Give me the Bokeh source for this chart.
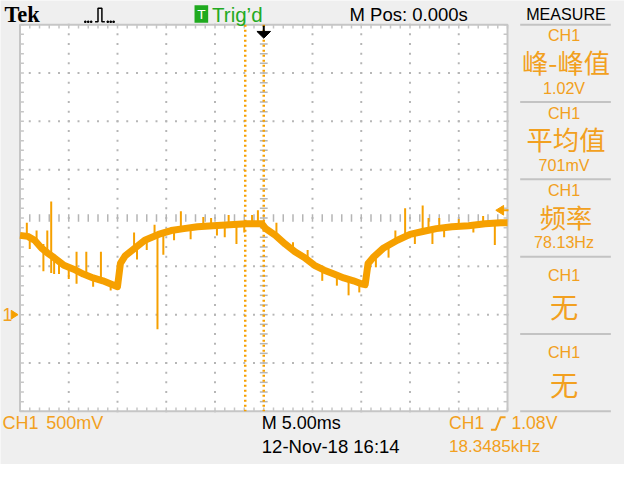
import numpy as np
from bokeh.plotting import figure
from bokeh.models import Range1d
from bokeh.core.properties import value
from bokeh.embed import file_html
from bokeh.resources import INLINE

# ---------------- data ----------------
# CH1 trace: time (ms, relative to trigger) and volts
trace_t = [-25.0, -24.2, -23.5, -22.8, -22.2, -21.5, -20.5, -19.5, -18.5, -17.5, -16.5, -15.5, -15.0,
           -14.7, -14.2, -13.2, -12.2, -10.8, -9.5, -8.2, -6.8, -5.2, -3.5, -1.8, -0.2,
           0.2, 1.2, 2.2, 3.2, 4.2, 5.2, 6.2, 7.2, 8.2, 9.2, 10.0, 10.4,
           10.7, 11.2, 12.3, 13.7, 15.0, 16.3, 17.7, 19.3, 21.0, 22.7, 24.3, 25.0]
trace_v = [0.82, 0.81, 0.77, 0.69, 0.64, 0.59, 0.51, 0.47, 0.42, 0.38, 0.35, 0.31, 0.29,
           0.53, 0.61, 0.69, 0.77, 0.83, 0.87, 0.89, 0.91, 0.92, 0.93, 0.94, 0.94,
           0.89, 0.82, 0.73, 0.65, 0.59, 0.51, 0.46, 0.42, 0.38, 0.35, 0.32, 0.31,
           0.53, 0.59, 0.69, 0.77, 0.83, 0.86, 0.89, 0.91, 0.92, 0.94, 0.95, 0.95]

# glitches on the trace: time (ms), low end, high end (volts)
spike_t = [-24.3, -24.0, -23.3, -22.6, -22.2, -21.8, -21.5, -21.0, -20.0, -19.2, -18.2, -17.5,
           -16.7, -15.7, -13.3, -13.0, -12.0, -11.2, -10.9, -10.3, -9.2, -8.5, -7.5, -6.2,
           -5.4, -4.8, -4.0, -3.6, -2.8, -2.0, -1.2, -0.6, 1.3, 3.0, 4.5, 6.0, 7.5, 8.7,
           9.8, 11.5, 12.8, 13.5, 14.5, 15.5, 16.3, 16.9, 17.3, 18.0, 18.5, 20.0, 21.5,
           22.5, 23.7]
spike_lo = [0.81, 0.68, 0.76, 0.45, 0.64, 0.43, 0.42, 0.42, 0.37, 0.32, 0.42, 0.29,
            0.36, 0.25, 0.69, 0.57, 0.67, 0.81, -0.15, 0.62, 0.77, 0.88, 0.78, 0.91,
            0.92, 0.82, 0.80, 0.93, 0.73, 0.85, 0.94, 0.94, 0.82, 0.66, 0.57, 0.35, 0.30, 0.20,
            0.23, 0.49, 0.59, 0.76, 0.79, 0.73, 0.86, 0.87, 0.73, 0.89, 0.80, 0.91, 0.85,
            0.94, 0.72]
spike_hi = [0.95, 0.81, 0.87, 0.73, 0.87, 1.17, 0.59, 0.55, 0.49, 0.65, 0.65, 0.38,
            0.65, 0.32, 0.85, 0.70, 0.77, 0.93, 0.83, 0.84, 0.87, 1.07, 0.90, 1.01,
            1.00, 0.92, 0.93, 1.03, 0.94, 0.94, 1.03, 1.08, 0.95, 0.75, 0.67, 0.47, 0.41, 0.37,
            0.34, 0.63, 0.72, 0.87, 1.10, 0.84, 1.13, 1.00, 0.88, 1.00, 0.90, 0.99, 0.93,
            1.02, 0.95]

volts_per_div = 0.5          # CH1 500mV
time_per_div_ms = 5.0        # M 5.00ms
trigger_level_v = 1.08
ground_v = 0.0

measure_names = ["峰-峰值", "平均值", "频率"]
measure_values = ["1.02V", "701mV", "78.13Hz"]
measure_none = ["无", "无"]

# ---------------- layout (screen pixels of the 640x480 scope screen) ----------------
W, H = 624, 464
SC = W / 640.0
GX0, GX1, GY0, GY1 = 20, 520, 25, 425
DIV = 50
XC = 270          # trigger time position
YG = 325          # ground level position

ORANGE = "#f6a000"
TORANGE = "#f2a020"
GRID = "#b5b5b5"
BORDER = "#c6c6c6"
BG = "#efefef"
LAT = "Liberation Sans"
CJK = "Noto Sans CJK SC"

p = figure(width=W, height=H, x_range=Range1d(0, 640), y_range=Range1d(480, 0),
           output_backend="svg", toolbar_location=None, min_border=0,
           x_axis_location=None, y_axis_location=None,
           background_fill_color=BG, border_fill_color=BG, outline_line_color=None)
p.xgrid.visible = False
p.ygrid.visible = False

tpp = time_per_div_ms / DIV
vpp = volts_per_div / DIV
p.extra_x_ranges = {"t": Range1d((0 - XC) * tpp, (640 - XC) * tpp)}
p.extra_y_ranges = {"v": Range1d((YG - 480) * vpp, (YG - 0) * vpp)}

# graticule
p.quad(left=[GX0], right=[GX1], top=[GY0], bottom=[GY1], fill_color="white", line_color=None)

gx, gy = [], []
for x in range(GX0 + DIV, GX1, DIV):
    if x == XC:
        continue
    for y in range(GY0, GY1 + 1, 10):
        gx.append(x); gy.append(y)
for y in range(GY0 + DIV, GY1, DIV):
    if y == 225:
        continue
    for x in range(GX0, GX1 + 1, 10):
        gx.append(x); gy.append(y)
p.rect(gx, gy, width=2, height=2, fill_color=GRID, line_color=None)

# center cross ticks
cy = list(range(GY0, GY1 + 1, 10))
p.segment(x0=[XC - 4] * len(cy), y0=cy, x1=[XC + 4] * len(cy), y1=cy, line_color=GRID, line_width=1.5)
cx = list(range(GX0, GX1 + 1, 10))
p.segment(x0=cx, y0=[221] * len(cx), x1=cx, y1=[229] * len(cx), line_color=GRID, line_width=1.5)

# border ticks
p.segment(x0=[GX0] * len(cy), y0=cy, x1=[GX0 + 4] * len(cy), y1=cy, line_color=BORDER, line_width=1.5)
p.segment(x0=[GX1 - 4] * len(cy), y0=cy, x1=[GX1] * len(cy), y1=cy, line_color=BORDER, line_width=1.5)
p.segment(x0=cx, y0=[GY0] * len(cx), x1=cx, y1=[GY0 + 4] * len(cx), line_color=BORDER, line_width=1.5)
p.segment(x0=cx, y0=[GY1 - 4] * len(cx), x1=cx, y1=[GY1] * len(cx), line_color=BORDER, line_width=1.5)
p.quad(left=[GX0], right=[GX1], top=[GY0], bottom=[GY1], fill_color=None, line_color=BORDER, line_width=2)

# orange dotted markers
p.segment(x0=[251, XC], y0=[GY0, GY0], x1=[251, XC], y1=[GY1, GY1], line_color=ORANGE,
          line_width=2.5, line_dash="2 3")

# trace
p.line(trace_t, trace_v, x_range_name="t", y_range_name="v", line_color=ORANGE, line_width=7,
       line_join="round")
p.segment(x0=spike_t, y0=spike_lo, x1=spike_t, y1=spike_hi, x_range_name="t", y_range_name="v",
          line_color=ORANGE, line_width=2)

# trigger position arrow (black, top)
p.segment(x0=[XC], y0=[26], x1=[XC], y1=[33], line_color="black", line_width=2)
p.patch([XC - 7, XC + 7, XC], [32, 32, 39], color="black")

# trigger level arrow (right edge)
p.patch([508, 516, 516], [trigger_level_v, trigger_level_v + 0.05, trigger_level_v - 0.05],
        y_range_name="v", color=ORANGE)
p.segment(x0=[514], y0=[trigger_level_v], x1=[521], y1=[trigger_level_v], y_range_name="v",
          line_color=ORANGE, line_width=2)

# ground marker
p.patch([11, 18, 11], [ground_v + 0.045, ground_v, ground_v - 0.045], y_range_name="v", color=ORANGE)


def txt(x, y, s, size, color, align="left", font=LAT, style="normal", yr="default"):
    p.text(x=[x], y=[y], text=[s], text_font=value(font), text_font_size=f"{size * SC:.1f}px",
           text_color=color, text_align=align, text_baseline="middle", text_font_style=style,
           y_range_name=yr)


txt(2, ground_v, "1", 18, TORANGE, yr="v")

# top bar
txt(4, 14, "Tek", 23, "black", font="Liberation Serif", style="bold")
p.line([97, 100, 100, 104, 104, 107], [22, 22, 8, 8, 22, 22], line_color="black", line_width=1.5)
p.rect([87, 90, 93, 110, 113, 116], [22] * 6, width=1.5, height=1.5, color="black")
p.quad(left=[199], right=[213], top=[5], bottom=[23], fill_color="#1faa1f", line_color=None)
txt(206, 14, "T", 14, "white", align="center")
txt(217, 14, "Trig’d", 21, "#22aa22")
txt(358, 14, "M Pos: 0.000s", 19, "black")
txt(580, 14, "MEASURE", 16.5, "black", align="center")

# right measure panel
seps = [25, 105, 185, 265, 345, 425]
p.segment(x0=[533] * len(seps), y0=seps, x1=[626] * len(seps), y1=seps, line_color="#c3c3c3",
          line_width=2)
for i, (nm, vv) in enumerate(zip(measure_names, measure_values)):
    s = seps[i]
    txt(578, s + 11, "CH1", 16.5, TORANGE, align="center")
    txt(580, s + 38, nm, 27, TORANGE, align="center", font=CJK)
    txt(578, s + 65, vv, 16.5, TORANGE, align="center")
for j, nm in enumerate(measure_none):
    s = seps[3 + j]
    txt(578, s + 19, "CH1", 16.5, TORANGE, align="center")
    txt(578, s + 51, nm, 29, TORANGE, align="center", font=CJK)

# bottom bar
txt(2, 437, "CH1", 18.5, TORANGE)
txt(47, 437, "500mV", 18.5, TORANGE)
txt(268, 437, "M 5.00ms", 18.5, "black")
txt(268, 461, "12-Nov-18 16:14", 19, "black")
txt(460, 437, "CH1", 18, TORANGE)
p.line([503, 508, 513, 518], [444, 444, 431, 431], line_color=TORANGE, line_width=2)
txt(524, 437, "1.08V", 18, TORANGE)
txt(460, 461, "18.3485kHz", 17.5, TORANGE)

open("out.html", "w").write(file_html(p, INLINE))
